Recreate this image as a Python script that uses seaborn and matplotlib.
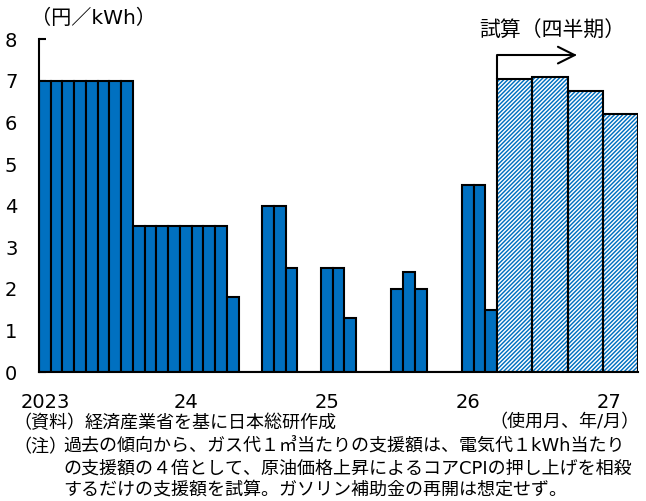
import matplotlib
matplotlib.use("Agg")
import matplotlib.pyplot as plt
from matplotlib.patches import Rectangle
from matplotlib.ticker import FixedLocator, NullFormatter
import numpy as np
import pandas as pd
import seaborn as sns

BLUE = "#0070C0"

# monthly support (yen per kWh), Jan 2023 - Mar 2026
monthly_periods = pd.period_range("2023-01", "2026-03", freq="M")
monthly_values = [
    7.0, 7.0, 7.0, 7.0, 7.0, 7.0, 7.0, 7.0, 3.5, 3.5, 3.5, 3.5,   # 2023
    3.5, 3.5, 3.5, 3.5, 1.8, 0.0, 0.0, 4.0, 4.0, 2.5, 0.0, 0.0,   # 2024
    2.5, 2.5, 1.3, 0.0, 0.0, 0.0, 2.0, 2.4, 2.0, 0.0, 0.0, 0.0,   # 2025
    4.5, 4.5, 1.5,                                                 # 2026
]

# quarterly estimate
quarter_periods = pd.period_range("2026Q2", "2027Q1", freq="Q")
quarter_values = [7.05, 7.1, 6.75, 6.2]

year_labels = ["2023", "24", "25", "26", "27"]
unit_label = "（円／kWh）"
estimate_label = "試算（四半期）"
source_label = ("（資料）", "経済産業省を基に日本総研作成")
axis_note = "（使用月、年/月）"
note_head = "（注）"
note_lines = [
    "過去の傾向から、ガス代１㎥当たりの支援額は、電気代１kWh当たり",
    "の支援額の４倍として、原油価格上昇によるコアCPIの押し上げを相殺",
    "するだけの支援額を試算。ガソリン補助金の再開は想定せず。",
]

START = pd.Period("2023-01", freq="M")


def month_pos(p):
    # months since Jan 2023 (start of the period)
    return (p.asfreq("M", how="start") - START).n


monthly = pd.DataFrame({
    "x": [month_pos(p) + 0.5 for p in monthly_periods],
    "value": monthly_values,
})
quarterly = pd.DataFrame({
    "x": [month_pos(p) + 1.5 for p in quarter_periods],
    "value": quarter_values,
})

sns.set_theme(style="white")
plt.rcParams["font.family"] = ["DejaVu Sans", "Noto Sans CJK JP"]
plt.rcParams["hatch.linewidth"] = 1.05

W, H = 646, 501
fig, ax = plt.subplots(figsize=(W / 100, H / 100), dpi=100)
fig.subplots_adjust(left=39 / W, right=638 / W, top=1 - 39.3 / H, bottom=1 - 372 / H)

# ── bars ──────────────────────────────────────────────────────
sns.barplot(data=monthly, x="x", y="value", orient="x", native_scale=True,
            width=1, color=BLUE, saturation=1, edgecolor="black",
            linewidth=1.5, errorbar=None, ax=ax)
sns.barplot(data=quarterly, x="x", y="value", orient="x", native_scale=True,
            width=1, color="white", saturation=1, edgecolor=BLUE,
            linewidth=0, hatch="////////", errorbar=None, ax=ax)
for bar in ax.containers[-1]:
    ax.add_patch(Rectangle(bar.get_xy(), bar.get_width(), bar.get_height(),
                           fill=False, edgecolor="black", linewidth=1.5, zorder=3))

# ── axes ──────────────────────────────────────────────────────
n_months = month_pos(quarter_periods[-1]) + 3
ax.set_xlim(0, n_months)
ax.set_ylim(0, 8)
ax.set_yticks(range(0, 9))
ax.xaxis.set_major_locator(FixedLocator(np.arange(0, n_months + 1, 3)))
ax.xaxis.set_major_formatter(NullFormatter())
year_pos = [month_pos(pd.Period(f"{2023 + i}-01", freq="M")) + 0.5
            for i in range(len(year_labels))]
ax.set_xticks(year_pos, labels=year_labels, minor=True)
ax.tick_params(axis="x", which="major", direction="out", length=5, width=1.5,
               color="black")
ax.tick_params(axis="x", which="minor", length=0, pad=15, labelsize=14,
               labelcolor="black")
ax.tick_params(axis="y", direction="in", length=5, width=1.5, pad=15.5,
               labelsize=14, labelcolor="black", color="black", left=True)
for side in ("top", "right"):
    ax.spines[side].set_visible(False)
for side in ("left", "bottom"):
    ax.spines[side].set_color("black")
    ax.spines[side].set_linewidth(1.5)
ax.set_xlabel("")
ax.set_ylabel("")

# ── estimate arrow ────────────────────────────────────────────
q0 = month_pos(quarter_periods[0])
ax.annotate("", xy=(45.8, 7.62), xytext=(q0, quarter_values[0]),
            arrowprops=dict(arrowstyle="->,head_length=0.6,head_width=0.3",
                            connectionstyle="angle,angleA=90,angleB=0,rad=0",
                            lw=1.5, color="black", mutation_scale=20,
                            shrinkA=0, shrinkB=0),
            annotation_clip=False)
ax.text(43.7, 8.2, estimate_label, ha="center", va="center", fontsize=15,
        color="black", clip_on=False)

# ── texts ─────────────────────────────────────────────────────
def ftext(px, py, s, size=13, **kw):
    fig.text(px / W, 1 - py / H, s, fontsize=size, color="black", va="center", **kw)

ftext(31, 18, unit_label, size=14.5)
ftext(13, 423, source_label[0])
ftext(85, 423, source_label[1])
ftext(640, 422, axis_note, ha="right")
ftext(13, 447, note_head)
ftext(63, 447, note_lines[0])
ftext(63, 469, note_lines[1])
ftext(63, 490, note_lines[2])

plt.savefig("out.png", dpi=100)
plt.close()
